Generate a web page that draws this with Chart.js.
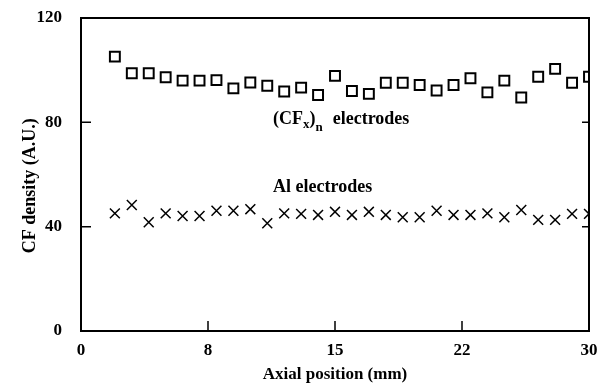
<!DOCTYPE html>
<html>
<head>
<meta charset="utf-8">
<script src="https://cdn.jsdelivr.net/npm/chart.js@4/dist/chart.umd.min.js"></script>
<style>
html,body{margin:0;padding:0;background:#fff;}
#wrap{width:602px;height:383px;position:relative;}
</style>
</head>
<body>
<div id="wrap"><canvas id="c" width="602" height="383"></canvas></div>
<script>
// ---- data ----
const axialPositions = [2,3,4,5,6,7,8,9,10,11,12,13,14,15,16,17,18,19,20,21,22,23,24,25,26,27,28,29,30];
const cfxDensity = [105.2,98.8,98.8,97.3,96.0,96.0,96.2,93.0,95.3,94.0,91.8,93.3,90.5,97.8,92.0,90.9,95.2,95.2,94.3,92.2,94.3,96.9,91.5,96.0,89.5,97.5,100.5,95.2,97.5];
const alDensity = [45.1,48.3,41.7,45.1,44.1,44.1,46.1,46.1,46.7,41.3,45.1,44.9,44.5,45.7,44.5,45.7,44.5,43.6,43.6,46.1,44.5,44.5,45.1,43.6,46.4,42.6,42.6,44.9,44.9];
const xTickValues = [0,7.5,15,22.5,30];
const xTickLabels = ['0','8','15','22','30'];
const yTickValues = [0,40,80,120];

const FONT = "'Liberation Serif','Times New Roman',serif";

const framePlugin = {
  id: 'frame',
  afterDraw(chart) {
    const {ctx, chartArea: a, scales} = chart;
    ctx.save();
    ctx.strokeStyle = '#000';
    ctx.lineWidth = 2;
    ctx.strokeRect(a.left, a.top, a.right - a.left, a.bottom - a.top);
    ctx.lineWidth = 1.5;
    ctx.beginPath();
    yTickValues.forEach(v => {
      const y = scales.y.getPixelForValue(v);
      ctx.moveTo(a.left, y); ctx.lineTo(a.left + 10, y);
      ctx.moveTo(a.right, y); ctx.lineTo(a.right - 7, y);
    });
    xTickValues.forEach(v => {
      const x = scales.x.getPixelForValue(v);
      ctx.moveTo(x, a.bottom); ctx.lineTo(x, a.bottom - 10);
    });
    ctx.stroke();
    ctx.restore();
  }
};

const labelPlugin = {
  id: 'labels',
  afterDatasetsDraw(chart) {
    const {ctx, scales} = chart;
    const px = v => scales.x.getPixelForValue(v);
    const py = v => scales.y.getPixelForValue(v);
    ctx.save();
    ctx.fillStyle = '#000';
    ctx.textBaseline = 'alphabetic';
    ctx.textAlign = 'left';
    const big = "bold 18px " + FONT;
    const small = "bold 13px " + FONT;
    // (CFx)n electrodes
    let x = px(11.34), y = py(79.4);
    ctx.font = big; ctx.fillText('(CF', x, y); x += ctx.measureText('(CF').width;
    ctx.font = small; ctx.fillText('x', x, y + 4); x += ctx.measureText('x').width;
    ctx.font = big; ctx.fillText(')', x, y); x += ctx.measureText(')').width;
    ctx.font = small; ctx.fillText('n', x, y + 7); x += ctx.measureText('n').width;
    ctx.font = big; ctx.fillText('electrodes', x + 10, y);
    // Al electrodes
    ctx.fillText('Al electrodes', px(11.34), py(53.3));
    ctx.restore();
  }
};

new Chart(document.getElementById('c'), {
  type: 'scatter',
  data: {
    datasets: [
      {
        label: '(CFx)n electrodes',
        data: axialPositions.map((p, i) => ({x: p, y: cfxDensity[i]})),
        pointStyle: 'rect',
        radius: 7,
        borderWidth: 2,
        borderColor: '#000',
        backgroundColor: 'rgba(255,255,255,0)'
      },
      {
        label: 'Al electrodes',
        data: axialPositions.map((p, i) => ({x: p, y: alDensity[i]})),
        pointStyle: 'crossRot',
        radius: 7,
        borderWidth: 1.5,
        borderColor: '#000',
        backgroundColor: '#000'
      }
    ]
  },
  options: {
    responsive: false,
    animation: false,
    layout: {padding: {left: 0, right: 13, top: 18, bottom: 0}},
    plugins: {legend: {display: false}, tooltip: {enabled: false}},
    elements: {point: {hoverRadius: 7}},
    scales: {
      x: {
        type: 'linear',
        min: 0, max: 30,
        afterBuildTicks: s => { s.ticks = xTickValues.map(v => ({value: v})); },
        afterFit: s => { s.height = 52; s.paddingLeft = 0; s.paddingRight = 0; },
        grid: {display: false, drawTicks: false},
        border: {display: false},
        ticks: {
          padding: 9,
          color: '#000',
          font: {family: FONT, size: 17, weight: 'bold'},
          maxRotation: 0,
          callback: (v, i) => xTickLabels[i]
        },
        title: {
          display: true,
          text: 'Axial position (mm)',
          color: '#000',
          font: {family: FONT, size: 17, weight: 'bold', lineHeight: 1},
          padding: {top: 0, bottom: 0}
        }
      },
      y: {
        min: 0, max: 120,
        afterBuildTicks: s => { s.ticks = yTickValues.map(v => ({value: v})); },
        afterFit: s => { s.width = 81; s.paddingTop = 0; s.paddingBottom = 0; },
        grid: {display: false, drawTicks: false},
        border: {display: false},
        ticks: {
          padding: 19,
          color: '#000',
          font: {family: FONT, size: 17, weight: 'bold'}
        },
        title: {
          display: true,
          text: 'CF density (A.U.)\u00A0\u00A0\u00A0\u00A0\u00A0',
          color: '#000',
          font: {family: FONT, size: 18, weight: 'bold', lineHeight: 1},
          padding: {top: 21, bottom: 0}
        }
      }
    }
  },
  plugins: [framePlugin, labelPlugin]
});
</script>
</body>
</html>
